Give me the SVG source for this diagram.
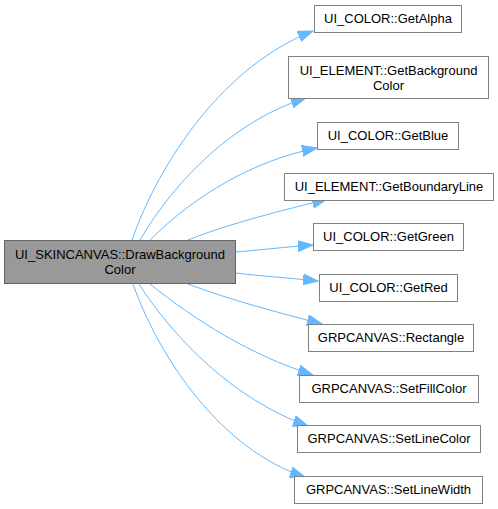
<svg xmlns="http://www.w3.org/2000/svg" width="498" height="509" viewBox="0 0 498 509">
<style>
.n rect{fill:#ffffff;stroke:#808080;stroke-width:1}
.src rect{fill:#999999;stroke:#666666;stroke-width:1}
text{font-family:"Liberation Sans",Arial,sans-serif;font-size:13px;fill:#000000;text-anchor:middle}
.e path{fill:none;stroke:#63b8ff;stroke-width:1}
</style>
<defs>
<marker id="ah" markerUnits="userSpaceOnUse" markerWidth="16" markerHeight="12" refX="15" refY="6" orient="auto">
<path d="M0,0.5 L15,6 L0,11.5 Z" fill="#63b8ff" stroke="#63b8ff" stroke-width="1"/>
</marker>
</defs>
<g id="edges" class="e">
<path d="M132,240 C160,160 225,65 313,31" marker-end="url(#ah)"/>
<path d="M140,240 C175,180 235,120 306,98" marker-end="url(#ah)"/>
<path d="M150,240 C195,195 255,160 317,148" marker-end="url(#ah)"/>
<path d="M188,240 C230,223 285,210 327,199" marker-end="url(#ah)"/>
<path d="M236,252 C260,250 285,247 313,245" marker-end="url(#ah)"/>
<path d="M236,273 C260,276 290,278 318,281" marker-end="url(#ah)"/>
<path d="M188,284 C230,300 280,313 322,324" marker-end="url(#ah)"/>
<path d="M150,284 C195,320 250,355 313,375" marker-end="url(#ah)"/>
<path d="M139,284 C175,340 235,400 308,426" marker-end="url(#ah)"/>
<path d="M133,284 C160,360 222,450 305,477" marker-end="url(#ah)"/>
</g>
<g id="node_src" class="src">
<rect x="4.5" y="240.5" width="231" height="43"/>
<text x="120" y="259">UI_SKINCANVAS::DrawBackground</text>
<text x="120" y="274">Color</text>
</g>
<g id="node_alpha" class="n"><rect x="314.5" y="5.5" width="147" height="27"/><text x="388" y="23">UI_COLOR::GetAlpha</text></g>
<g id="node_bgcolor" class="n"><rect x="288.5" y="56.5" width="200" height="42"/><text x="388.5" y="75">UI_ELEMENT::GetBackground</text><text x="388.5" y="90">Color</text></g>
<g id="node_blue" class="n"><rect x="317.5" y="122.5" width="141" height="27"/><text x="388" y="140">UI_COLOR::GetBlue</text></g>
<g id="node_boundary" class="n"><rect x="284.5" y="173.5" width="209" height="27"/><text x="389" y="191">UI_ELEMENT::GetBoundaryLine</text></g>
<g id="node_green" class="n"><rect x="313.5" y="223.5" width="150" height="27"/><text x="388.5" y="241">UI_COLOR::GetGreen</text></g>
<g id="node_red" class="n"><rect x="319.5" y="274.5" width="138" height="27"/><text x="388.5" y="292">UI_COLOR::GetRed</text></g>
<g id="node_rect" class="n"><rect x="308.5" y="324.5" width="165" height="27"/><text x="391" y="342">GRPCANVAS::Rectangle</text></g>
<g id="node_fill" class="n"><rect x="299.5" y="375.5" width="179" height="27"/><text x="389" y="393">GRPCANVAS::SetFillColor</text></g>
<g id="node_linecolor" class="n"><rect x="297.5" y="425.5" width="183" height="27"/><text x="389" y="443">GRPCANVAS::SetLineColor</text></g>
<g id="node_linewidth" class="n"><rect x="294.5" y="476.5" width="188" height="27"/><text x="388.5" y="494">GRPCANVAS::SetLineWidth</text></g>
</svg>
